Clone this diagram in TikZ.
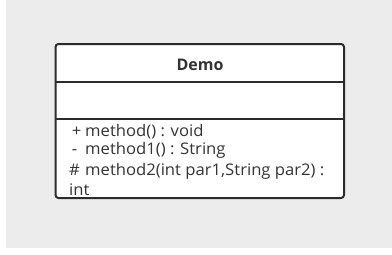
\documentclass[tikz,border=0pt]{standalone}
\usepackage{fontspec}
\setmainfont{Open Sans}
\newfontfamily\memberfont{Open Sans}[FakeStretch=1.04]
\definecolor{canvas}{HTML}{ECECEC}
\definecolor{ink}{HTML}{333333}
\definecolor{edge}{HTML}{2B2B2B}
\begin{document}
\begin{tikzpicture}[x=1pt,y=-1pt,
  frame/.style={draw=edge,line width=2pt},
  member/.style={anchor=base west,inner sep=0pt,text=ink,font=\memberfont\fontsize{16}{18}\selectfont},
  title/.style={anchor=base,inner sep=0pt,text=ink,font=\fontsize{16}{18}\selectfont\bfseries}]
  % page and canvas
  \useasboundingbox (0,0) rectangle (392,255);
  \fill[white] (0,0) rectangle (392,255);
  \fill[canvas] (6,0) rectangle (392,248);
  % class box
  \draw[frame,fill=white,rounded corners=3pt] (55.5,44) rectangle (344,198);
  \coordinate (hl) at (55.5,82);  \coordinate (hr) at (344,82);
  \coordinate (ml) at (55.5,119); \coordinate (mr) at (344,119);
  \draw[frame] (hl) -- (hr);
  \draw[frame] (ml) -- (mr);
  % class name
  \node[title] (name) at (200,70) {Demo};
  % operations
  \node[member] (op1) at (69,136) {\makebox[16pt][l]{\,+}method() : void};
  \node[member] (op2) at (69,154) {\makebox[16pt][l]{\,-}method1() : String};
  \node[member] (op3) at (69,175) {\makebox[16pt][l]{\#}method2(int par1,String par2) :};
  \node[member] (op4) at (69,195) {int};
\end{tikzpicture}
\end{document}
